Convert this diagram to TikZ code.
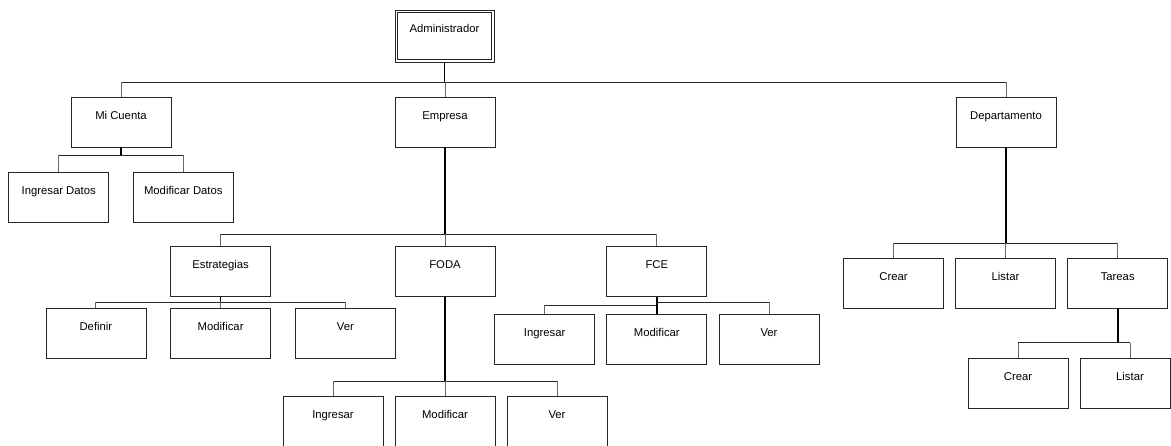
\documentclass[tikz,border=0pt]{standalone}
\usepackage{fontspec}
\setmainfont{Liberation Sans}
\begin{document}
\begin{tikzpicture}[x=1pt,y=-1pt,
  box/.style={draw=black!85, line width=0.8pt, minimum width=100pt, minimum height=50pt, inner sep=0pt},
  dbox/.style={box, minimum width=99pt, minimum height=52pt},
  lbl/.style={anchor=base, yshift=-22.5pt, inner sep=0pt, font=\fontsize{11.3}{13}\selectfont},
  trunk/.style={draw=black, line width=1.7pt},
  busline/.style={draw=black!85, line width=0.9pt},
  conn/.style={draw=black!60, line width=0.9pt}]
\useasboundingbox (0,0) rectangle (1171,445);
\fill[white] (0,0) rectangle (1171,445);

% nodes
\node[dbox, label={[lbl]north:Administrador}] (admin) at (444.5,36) {};
\draw[draw=black!85, line width=0.8pt] ([shift={(2.8pt,-2.8pt)}]admin.north west) rectangle ([shift={(-2.8pt,2.8pt)}]admin.south east);
\node[box, label={[lbl]north:Mi Cuenta}] (micuenta) at (121,122) {};
\node[box, label={[lbl]north:Empresa}] (empresa) at (445,122) {};
\node[box, label={[lbl]north:Departamento}] (depto) at (1006,122) {};
\node[box, label={[lbl]north:Ingresar Datos}] (ingdatos) at (58.7,197) {};
\node[box, label={[lbl]north:Modificar Datos}] (moddatos) at (183.3,197) {};
\node[box, label={[lbl]north:Estrategias}] (estrat) at (220.6,271.5) {};
\node[box, label={[lbl]north:FODA}] (foda) at (445,271.5) {};
\node[box, label={[lbl]north:FCE}] (fce) at (656.8,271.5) {};
\node[box, label={[lbl]north:Definir}] (definir) at (95.9,333.3) {};
\node[box, label={[lbl]north:Modificar}] (emod) at (220.6,333.3) {};
\node[box, label={[lbl]north:Ver}] (ever) at (345.4,333.3) {};
\node[box, label={[lbl]north:Ingresar}] (fing) at (544.6,339.7) {};
\node[box, label={[lbl]north:Modificar}] (fmod) at (656.8,339.7) {};
\node[box, label={[lbl]north:Ver}] (fver) at (769,339.7) {};
\node[box, label={[lbl]north:Crear}] (dcrear) at (893.6,283.5) {};
\node[box, label={[lbl]north:Listar}] (dlistar) at (1005.5,283.5) {};
\node[box, label={[lbl]north:Tareas}] (tareas) at (1117.7,283.5) {};
\node[box, label={[lbl]north:Crear}] (tcrear) at (1018,383.3) {};
\node[box, minimum width=90pt, label={[lbl, xshift=4.5pt]north:Listar}] (tlistar) at (1125.5,383.3) {};
\node[box, label={[lbl]north:Ingresar}] (foding) at (333,421) {};
\node[box, label={[lbl]north:Modificar}] (fodmod) at (445,421) {};
\node[box, label={[lbl]north:Ver}] (fodver) at (557,421) {};

% bus levels
\coordinate (bTop) at (0,82);
\coordinate (bMic) at (0,155);
\coordinate (bEmp) at (0,234);
\coordinate (bEst) at (0,302.3);
\coordinate (bFoda) at (0,381);
\coordinate (bFceL) at (0,305);
\coordinate (bFceR) at (0,302);
\coordinate (bDep) at (0,243.3);
\coordinate (bTar) at (0,342.7);
\coordinate (tlx) at ([xshift=4.5pt]tlistar.north);

% Administrador
\draw[trunk] (admin.south) -- (admin.south |- bTop);
\draw[busline] (micuenta.north |- bTop) -- (depto.north |- bTop);
\foreach \n in {micuenta,empresa,depto} \draw[conn] (\n.north |- bTop) -- (\n.north);

% Mi Cuenta
\draw[trunk] (micuenta.south) -- (micuenta.south |- bMic);
\draw[busline] (ingdatos.north |- bMic) -- (moddatos.north |- bMic);
\foreach \n in {ingdatos,moddatos} \draw[conn] (\n.north |- bMic) -- (\n.north);

% Empresa
\draw[trunk] (empresa.south) -- (empresa.south |- bEmp);
\draw[busline] (estrat.north |- bEmp) -- (fce.north |- bEmp);
\foreach \n in {estrat,foda,fce} \draw[conn] (\n.north |- bEmp) -- (\n.north);

% Estrategias
\draw[trunk] (estrat.south) -- (estrat.south |- bEst);
\draw[busline] (definir.north |- bEst) -- (ever.north |- bEst);
\foreach \n in {definir,emod,ever} \draw[conn] (\n.north |- bEst) -- (\n.north);

% FODA
\draw[trunk] (foda.south) -- (foda.south |- bFoda);
\draw[busline] (foding.north |- bFoda) -- (fodver.north |- bFoda);
\foreach \n in {foding,fodmod,fodver} \draw[conn] (\n.north |- bFoda) -- (\n.north);

% FCE
\draw[trunk] (fce.south) -- (fmod.north);
\draw[busline] (fing.north |- bFceL) -- (fmod.north |- bFceL);
\draw[busline] (fmod.north |- bFceR) -- (fver.north |- bFceR);
\draw[conn] (fing.north |- bFceL) -- (fing.north);
\draw[conn] (fver.north |- bFceR) -- (fver.north);

% Departamento
\draw[trunk] (depto.south) -- (depto.south |- bDep);
\draw[busline] (dcrear.north |- bDep) -- (tareas.north |- bDep);
\foreach \n in {dcrear,dlistar,tareas} \draw[conn] (\n.north |- bDep) -- (\n.north);

% Tareas
\draw[trunk] (tareas.south) -- (tareas.south |- bTar);
\draw[busline] (tcrear.north |- bTar) -- (tlx |- bTar);
\draw[conn] (tcrear.north |- bTar) -- (tcrear.north);
\draw[conn] (tlx |- bTar) -- (tlx);
\end{tikzpicture}
\end{document}
